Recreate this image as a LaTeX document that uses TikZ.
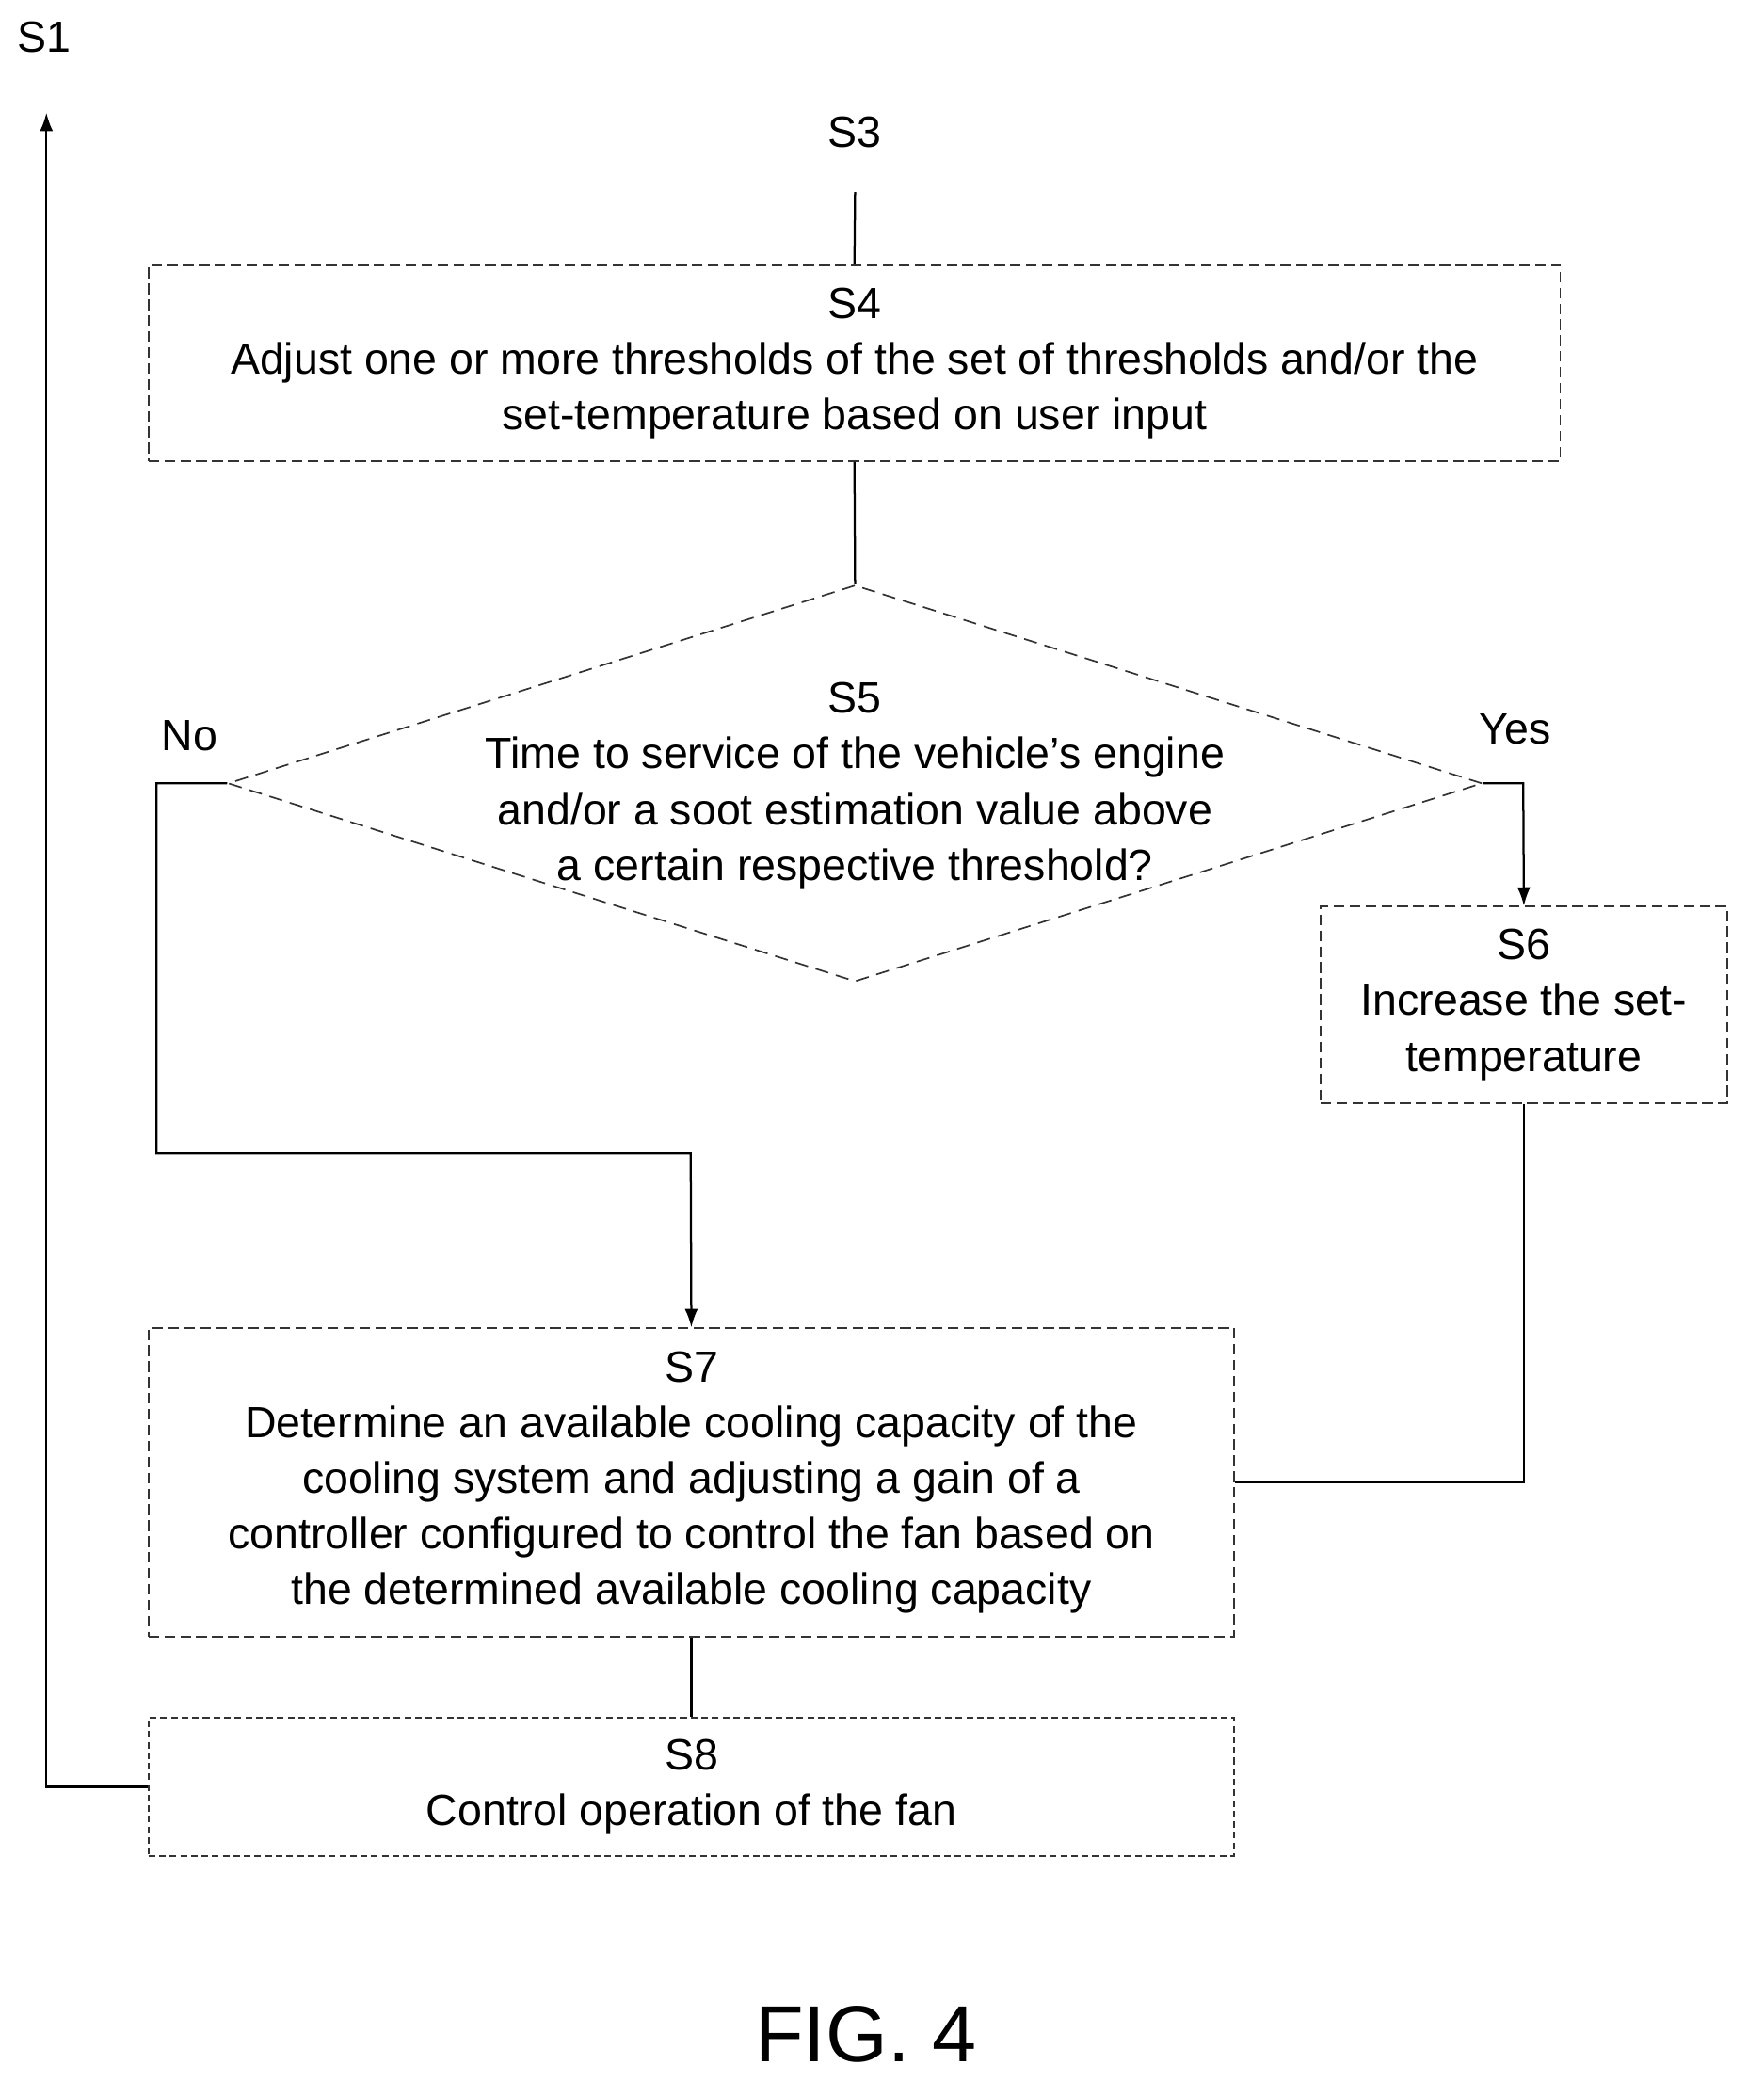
\documentclass[tikz,border=0pt]{standalone}
\usepackage{fontspec}
\setmainfont{Liberation Sans}
\usetikzlibrary{shapes.geometric,arrows.meta}

\tikzset{
  box/.style={draw=black!80, dash pattern=on 4pt off 2pt, line width=0.6pt,
    align=center, inner sep=0pt},
  flow/.style={line width=0.8pt},
  arr/.style={flow,-{Latex[length=7pt,width=5pt]}}
}

\begin{document}
\begin{tikzpicture}[x=0.5pt,y=-0.5pt,font=\fontsize{16.5}{21}\selectfont]
    \useasboundingbox (0,0) rectangle (1330,1582);

    % labels
    \node (s1) at (33,28) {S1};
    \node (s3) at (645,100) {S3};
    \coordinate (s3end) at (645,145);

    % boxes
    \node[box, minimum width=532.5pt, minimum height=74pt] (s4) at (644.5,274)
      {S4\\Adjust one or more thresholds of the set of thresholds and/or the\\set-temperature based on user input};

    \node[draw=black!80, dash pattern=on 5pt off 3pt, line width=0.6pt, diamond,
      minimum width=473pt, minimum height=149.5pt, inner sep=0pt] (s5) at (645,591) {};
    \node[align=center] (s5text) at (645,593)
      {S5\\Time to service of the vehicle’s engine\\and/or a soot estimation value above\\a certain respective threshold?};

    \node[box, minimum width=153.5pt, minimum height=74pt] (s6) at (1149.5,758)
      {S6\\Increase the set-\\temperature};

    \node[box, minimum width=409.5pt, minimum height=116.5pt] (s7) at (521.5,1118.5)
      {S7\\Determine an available cooling capacity of the\\cooling system and adjusting a gain of a\\controller configured to control the fan based on\\the determined available cooling capacity};

    \node[box, dash pattern=on 2.5pt off 1.5pt, minimum width=409.5pt, minimum height=52pt] (s8) at (521.5,1348)
      {S8\\Control operation of the fan};

    \node (no) at (143,555) {No};
    \node (yes) at (1143,550) {Yes};

    % connectors
    \draw[flow] (s3end) -- (s4.north);
    \draw[flow] (s4.south) -- (s5.north);
    \draw[arr] (s5.west) -- (118,591) -- (118,870) -- (521,870) -- (s7.north);
    \draw[arr] (s5.east) -- (1149,591) -- (s6.north);
    \draw[flow] (s6.south) |- (s7.east);
    \draw[flow] (s7.south) -- (s8.north);
    \coordinate (s1end) at (35,85);
    \draw[arr] (s8.west) -- (35,1348) -- (s1end);

    \node[font=\fontsize{30}{36}\selectfont] (fig) at (653,1535) {FIG. 4};
\end{tikzpicture}
\end{document}
